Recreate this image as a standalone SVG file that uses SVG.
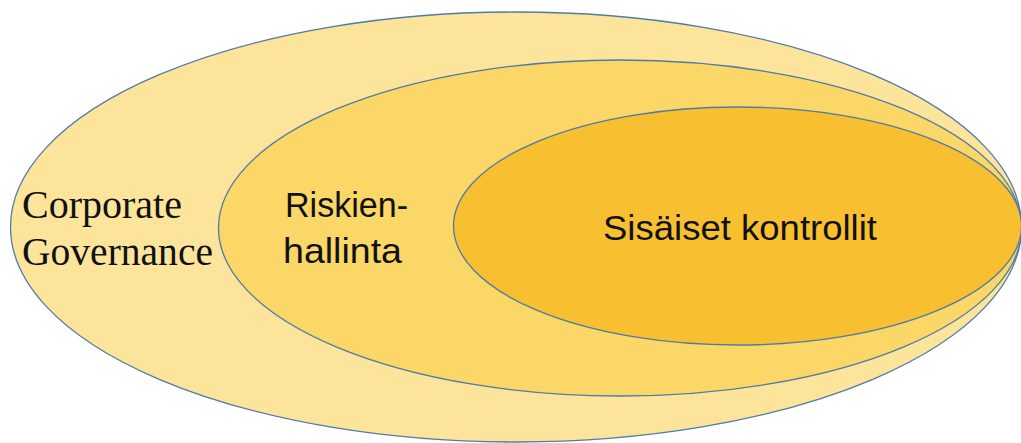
<svg xmlns="http://www.w3.org/2000/svg" width="1021" height="443" viewBox="0 0 1021 443">
<style>
.ring{stroke:#4f7ba6;stroke-width:1.3}
.serif{font-family:"Liberation Serif","Times New Roman",serif;font-size:39px;fill:#111}
.sans{font-family:"Liberation Sans",Arial,sans-serif;font-size:35px;fill:#111}
</style>
<rect width="1021" height="443" fill="#ffffff"/>
<g id="corporate-governance">
<ellipse class="ring" cx="516" cy="227" rx="505.5" ry="215" fill="#fce59b"/>
<text class="serif" x="22" y="218" textLength="160" lengthAdjust="spacingAndGlyphs">Corporate</text>
<text class="serif" x="22" y="265" textLength="191" lengthAdjust="spacingAndGlyphs">Governance</text>
</g>
<g id="riskienhallinta">
<ellipse class="ring" cx="620" cy="228" rx="401.5" ry="168" fill="#fad767"/>
<text class="sans" x="285" y="217" textLength="123" lengthAdjust="spacingAndGlyphs">Riskien-</text>
<text class="sans" x="283" y="263" textLength="119" lengthAdjust="spacingAndGlyphs">hallinta</text>
</g>
<g id="sisaiset-kontrollit">
<ellipse class="ring" cx="737.5" cy="226" rx="284" ry="119" fill="#f8c030"/>
<text class="sans" x="603" y="240" textLength="274" lengthAdjust="spacingAndGlyphs">Sisäiset kontrollit</text>
</g>
<g id="connectors"/>
</svg>
